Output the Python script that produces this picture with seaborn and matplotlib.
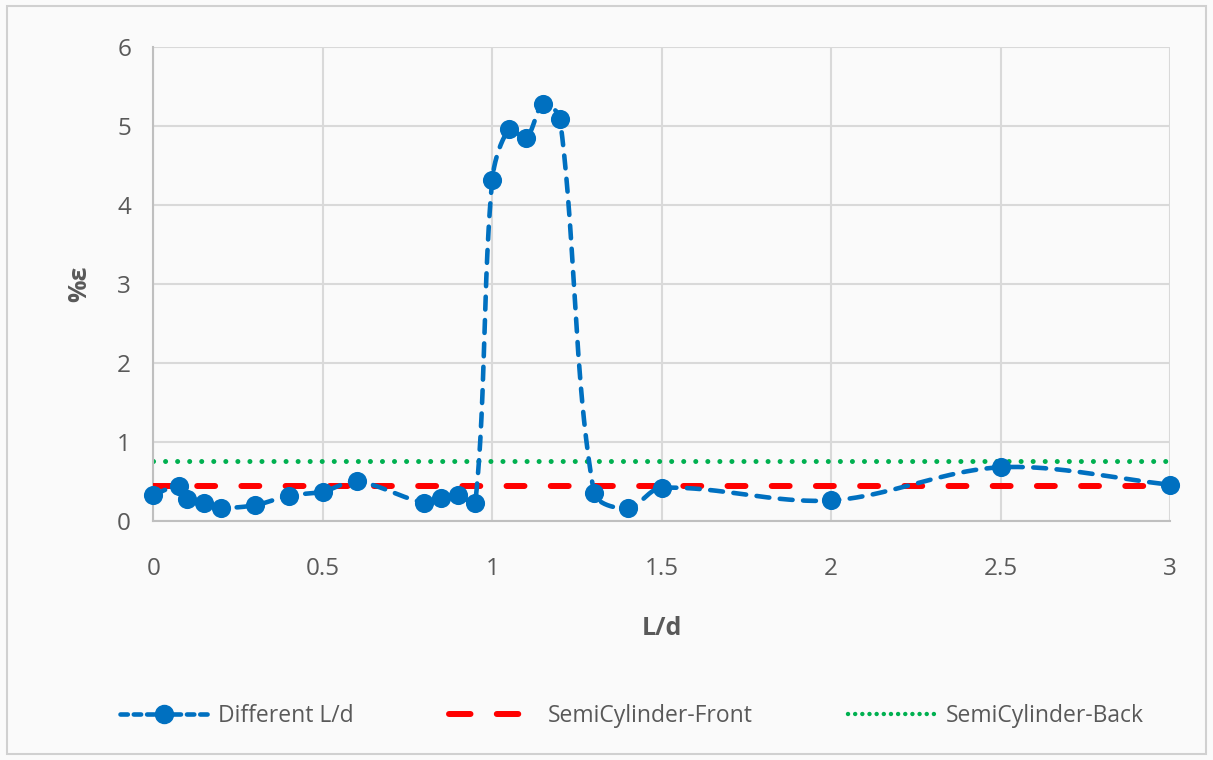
import numpy as np
import pandas as pd
import matplotlib
matplotlib.use("Agg")
import matplotlib.pyplot as plt
from matplotlib.patches import Rectangle
from matplotlib.lines import Line2D
import seaborn as sns

# ---- data ----
ld_values = [0.0, 0.075, 0.1, 0.15, 0.2, 0.3, 0.4, 0.5, 0.6, 0.8, 0.85, 0.9, 0.95,
             1.0, 1.05, 1.1, 1.15, 1.2, 1.3, 1.4, 1.5, 2.0, 2.5, 3.0]
eps_values = [0.33, 0.44, 0.28, 0.23, 0.17, 0.20, 0.32, 0.37, 0.50, 0.23, 0.29, 0.33, 0.23,
              4.32, 4.96, 4.85, 5.28, 5.09, 0.36, 0.16, 0.42, 0.26, 0.68, 0.46]
front_value = 0.44
back_value = 0.76
x_ticks = [0, 0.5, 1, 1.5, 2, 2.5, 3]
x_tick_labels = ["0", "0.5", "1", "1.5", "2", "2.5", "3"]
y_ticks = [0, 1, 2, 3, 4, 5, 6]
series_names = ["Different L/d", "SemiCylinder-Front", "SemiCylinder-Back"]

sns.set_theme(style="white")
plt.rcParams['font.family'] = ['Open Sans', 'DejaVu Sans']

BLUE = "#0070C0"
RED = "#FF0000"
GREEN = "#00B050"
TXT = "#595959"
GRID = "#D9D9D9"
BG = "#FAFAFA"

fig = plt.figure(figsize=(12.13, 7.6), dpi=100, facecolor=BG)
fig.patches.append(Rectangle((0.006, 0.008), 0.988, 0.984, transform=fig.transFigure,
                             fill=False, edgecolor="#D0D0D0", linewidth=1.5))
ax = fig.add_axes([0.1264, 0.3145, 0.8382, 0.6235])
ax.set_facecolor(BG)


def smooth_curve(xs, ys, sx=339.0, sy=79.0, n=40):
    """Smoothed line (chord-length scaled Bezier) computed in display-like units."""
    P = np.column_stack([np.asarray(xs) * sx, np.asarray(ys) * sy])
    m = len(P)
    d = np.linalg.norm(np.diff(P, axis=0), axis=1)
    T = np.zeros_like(P)
    for i in range(m):
        if i == 0:
            T[i] = (P[1] - P[0]) / d[0]
        elif i == m - 1:
            T[i] = (P[-1] - P[-2]) / d[-1]
        else:
            T[i] = (P[i + 1] - P[i - 1]) / (d[i - 1] + d[i])
    out = []
    for i in range(m - 1):
        p1, p2 = P[i], P[i + 1]
        c1 = p1 + T[i] * d[i] / 3.0
        c2 = p2 - T[i + 1] * d[i] / 3.0
        t = np.linspace(0, 1, n, endpoint=(i == m - 2))[:, None]
        b = ((1 - t) ** 3) * p1 + 3 * ((1 - t) ** 2) * t * c1 + 3 * (1 - t) * t ** 2 * c2 + t ** 3 * p2
        out.append(b)
    out = np.vstack(out)
    return out[:, 0] / sx, out[:, 1] / sy


sx_, sy_ = smooth_curve(ld_values, eps_values)
curve_df = pd.DataFrame({"x": sx_, "y": sy_})
pts_df = pd.DataFrame({"L/d": ld_values, "eps": eps_values})

# reference lines
ref_df = pd.DataFrame({"x": [0, 3], "front": [front_value] * 2, "back": [back_value] * 2})
sns.lineplot(data=ref_df, x="x", y="back", ax=ax, color=GREEN, linewidth=3.6, zorder=2)
ax.lines[-1].set_linestyle((0, (0.01, 2.4)))
ax.lines[-1].set_dash_capstyle("round")
sns.lineplot(data=ref_df, x="x", y="front", ax=ax, color=RED, linewidth=4.3, zorder=3)
ax.lines[-1].set_linestyle((0, (3.0, 4.4)))
ax.lines[-1].set_dash_capstyle("round")

sns.lineplot(data=curve_df, x="x", y="y", ax=ax, color=BLUE, linewidth=3.3, sort=False,
             estimator=None, zorder=4)
ax.lines[-1].set_linestyle((0, (2.8, 2.3)))
ax.lines[-1].set_dash_capstyle("round")
sns.scatterplot(data=pts_df, x="L/d", y="eps", ax=ax, color=BLUE, s=190,
                edgecolor=BLUE, linewidth=0, zorder=5, clip_on=False)

ax.set_xlim(0, 3)
ax.set_ylim(0, 6)
ax.set_xticks(x_ticks)
ax.set_xticklabels(x_tick_labels)
ax.set_yticks(y_ticks)
ax.grid(True, color=GRID, linewidth=1.5)
ax.set_axisbelow(True)
for s in ["top", "right"]:
    ax.spines[s].set_visible(False)
ax.spines["left"].set_color("#BFBFBF")
ax.spines["bottom"].set_color("#BFBFBF")
ax.spines["left"].set_linewidth(1.5)
ax.spines["bottom"].set_linewidth(1.5)
ax.tick_params(axis="both", length=0, labelsize=17.5, colors=TXT)
ax.tick_params(axis="x", pad=26)
ax.tick_params(axis="y", pad=16)

ax.set_xlabel("L/d", fontsize=18, fontweight="bold", color=TXT, labelpad=25)
ax.set_ylabel("%ε", fontsize=18, fontweight="bold", color=TXT, labelpad=18)

handles = [
    Line2D([0], [0], color=BLUE, linewidth=3.3, linestyle=(0, (1.6, 1.3)), marker="o",
           markersize=13, dash_capstyle="round"),
    Line2D([0], [0], color=RED, linewidth=4.3, linestyle=(0, (3.6, 4.4)), dash_capstyle="round"),
    Line2D([0], [0], color=GREEN, linewidth=3.2, linestyle=(0, (0.01, 1.6)), dash_capstyle="round"),
]
leg = fig.legend(handles, series_names, loc="center", bbox_to_anchor=(0.521, 0.058), ncol=3,
                 frameon=False, fontsize=16.5, handlelength=3.9, columnspacing=4.15,
                 handletextpad=0.4)
for t in leg.get_texts():
    t.set_color(TXT)

fig.savefig("out.png", dpi=100, facecolor=BG)
